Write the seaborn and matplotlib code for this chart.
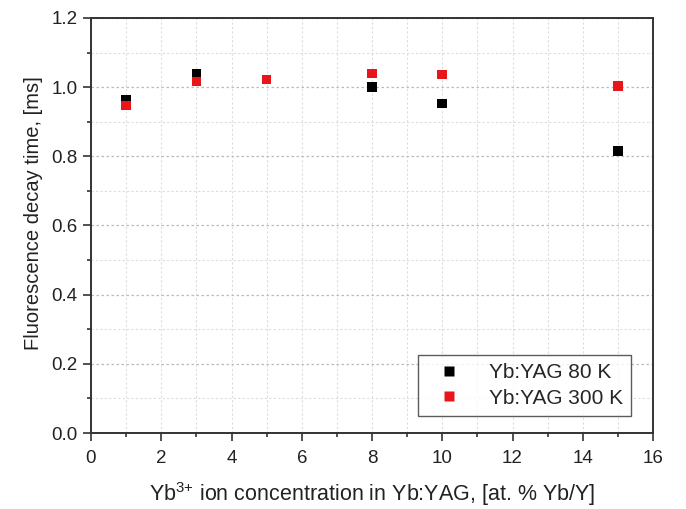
import matplotlib
matplotlib.use("Agg")
import matplotlib.pyplot as plt
import seaborn as sns
import pandas as pd
from matplotlib.ticker import MultipleLocator

conc = [1, 3, 5, 8, 10, 15]
tau_80K = [0.963, 1.038, 1.022, 1.001, 0.953, 0.815]
tau_300K = [0.947, 1.016, 1.022, 1.039, 1.037, 1.003]
series_labels = ["Yb:YAG 80 K", "Yb:YAG 300 K"]

df = pd.concat([
    pd.DataFrame({"conc": conc, "tau": tau_80K, "series": series_labels[0]}),
    pd.DataFrame({"conc": conc, "tau": tau_300K, "series": series_labels[1]}),
])

sns.set_theme(style="white")
plt.rcParams['font.family'] = ['Liberation Sans', 'DejaVu Sans']
plt.rcParams['mathtext.fontset'] = 'custom'
plt.rcParams['mathtext.rm'] = 'Liberation Sans'
plt.rcParams['mathtext.it'] = 'Liberation Sans'

fig = plt.figure(figsize=(6.86, 5.09), dpi=100)
ax = fig.add_axes([91/686, 1 - 433/509, (653-91)/686, (433-18)/509])

sns.scatterplot(data=df, x="conc", y="tau", hue="series",
                palette={series_labels[0]: "black", series_labels[1]: "#e8161b"},
                marker="s", s=48, edgecolor="none", ax=ax, zorder=3)

ax.set_xlim(0, 16)
ax.set_ylim(0, 1.2)
ax.xaxis.set_major_locator(MultipleLocator(2))
ax.xaxis.set_minor_locator(MultipleLocator(1))
ax.yaxis.set_major_locator(MultipleLocator(0.2))
ax.yaxis.set_minor_locator(MultipleLocator(0.1))
ax.yaxis.set_major_formatter(matplotlib.ticker.FormatStrFormatter('%.1f'))

ax.grid(which="major", axis="y", color="#bbbbbb", linestyle=(0, (2, 2)), linewidth=0.9)
ax.grid(which="minor", axis="y", color="#dddddd", linestyle=(0, (2, 2)), linewidth=0.8)
ax.grid(which="both", axis="x", color="#dddddd", linestyle=(0, (2, 2)), linewidth=0.8)
ax.set_axisbelow(True)

for sp in ax.spines.values():
    sp.set_color("#333333")
    sp.set_linewidth(1.4)

ax.tick_params(which="major", direction="out", length=6, width=1.2, color="#333333",
               labelsize=13.5, labelcolor="#222222", bottom=True, left=True, top=False, right=False)
ax.tick_params(axis="x", which="major", pad=6)
ax.tick_params(which="minor", direction="out", length=3, width=1.2, color="#333333",
               bottom=True, left=True, top=False, right=False)

ax.set_xlabel(r"Yb$^{\mathrm{3{+}}}$ ion concentration in Yb:YAG, [at. % Yb/Y]", fontsize=15.5, color="#222222", labelpad=10)
ax.set_ylabel("Fluorescence decay time, [ms]", fontsize=14.5, color="#222222", labelpad=6)
ax.yaxis.label.set_y(0.53)

leg = ax.legend(loc="lower right", bbox_to_anchor=(0.961, 0.041), fontsize=15,
                frameon=True, fancybox=False, edgecolor="#333333", markerscale=1.0,
                handlelength=2.2, handletextpad=0.8, labelspacing=0.3, borderpad=0.4,
                borderaxespad=0, title=None)
leg.get_frame().set_linewidth(1.0)

fig.savefig("out.png", dpi=100)
